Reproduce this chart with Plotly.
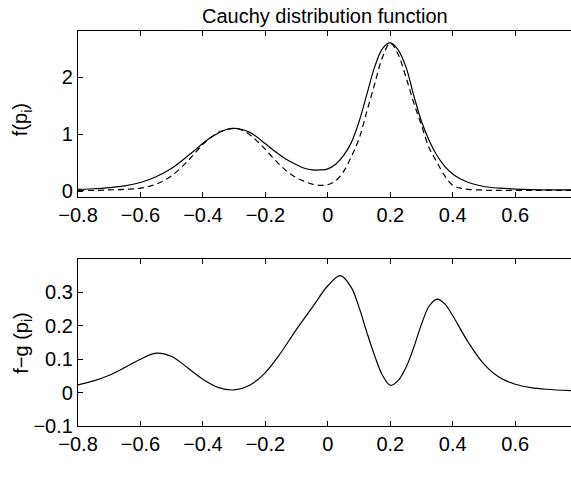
import plotly.graph_objects as go

# ---- data ----
p_top = [-0.80, -0.75, -0.70, -0.65, -0.60, -0.55, -0.50, -0.45, -0.425, -0.40,
         -0.375, -0.35, -0.325, -0.30, -0.275, -0.25, -0.225, -0.20, -0.175, -0.15,
         -0.125, -0.10, -0.075, -0.05, -0.025, 0.00, 0.025, 0.05, 0.075, 0.10,
         0.125, 0.15, 0.175, 0.20, 0.225, 0.25, 0.275, 0.30, 0.325, 0.35,
         0.375, 0.40, 0.425, 0.45, 0.50, 0.55, 0.60, 0.65, 0.70, 0.7786]
f_cauchy = [0.03, 0.04, 0.06, 0.09, 0.15, 0.25, 0.40, 0.61, 0.72, 0.84,
            0.94, 1.02, 1.08, 1.10, 1.08, 1.03, 0.94, 0.83, 0.72, 0.62,
            0.53, 0.46, 0.40, 0.37, 0.37, 0.39, 0.47, 0.62, 0.85, 1.22,
            1.70, 2.18, 2.50, 2.60, 2.48, 2.18, 1.68, 1.22, 0.88, 0.62,
            0.43, 0.30, 0.21, 0.15, 0.08, 0.05, 0.035, 0.025, 0.02, 0.02]
g_dashed = [0.01, 0.01, 0.02, 0.03, 0.05, 0.12, 0.27, 0.52, 0.67, 0.82,
            0.94, 1.03, 1.08, 1.10, 1.07, 0.99, 0.87, 0.73, 0.58, 0.44,
            0.32, 0.23, 0.17, 0.12, 0.10, 0.11, 0.18, 0.34, 0.60, 0.92,
            1.40, 1.88, 2.35, 2.60, 2.40, 2.00, 1.55, 1.15, 0.75, 0.50,
            0.26, 0.10, 0.05, 0.03, 0.015, 0.01, 0.01, 0.01, 0.01, 0.01]

p_bot = [-0.80, -0.75, -0.70, -0.65, -0.60, -0.55, -0.50, -0.45, -0.40, -0.35,
         -0.30, -0.25, -0.20, -0.15, -0.10, -0.05, 0.00, 0.04, 0.075, 0.10,
         0.125, 0.15, 0.175, 0.20, 0.225, 0.25, 0.275, 0.30, 0.325, 0.35, 0.375,
         0.40, 0.45, 0.50, 0.55, 0.60, 0.65, 0.70, 0.7786]
diff_fg = [0.023, 0.035, 0.052, 0.075, 0.100, 0.118, 0.108, 0.075, 0.040, 0.015,
           0.008, 0.022, 0.060, 0.120, 0.190, 0.255, 0.320, 0.350, 0.315, 0.255,
           0.180, 0.110, 0.052, 0.022, 0.036, 0.075, 0.135, 0.205, 0.260, 0.280, 0.265,
           0.230, 0.150, 0.085, 0.045, 0.025, 0.015, 0.010, 0.006]

x_ticks = [-0.8, -0.6, -0.4, -0.2, 0, 0.2, 0.4, 0.6]
x_ticktext = ["−0.8", "−0.6", "−0.4", "−0.2", "0", "0.2", "0.4", "0.6"]
y_top_ticks = [0, 1, 2]
y_bot_ticks = [-0.1, 0, 0.1, 0.2, 0.3]
y_bot_ticktext = ["−0.1", "0", "0.1", "0.2", "0.3"]

title_text = "Cauchy distribution function"

FONT = "Liberation Sans, Arial, Helvetica, sans-serif"
FS = 20

fig = go.Figure()
fig.add_trace(go.Scatter(x=p_top, y=f_cauchy, mode="lines", line=dict(color="black", width=1.2, shape="spline"),
                         xaxis="x", yaxis="y", showlegend=False))
fig.add_trace(go.Scatter(x=p_top, y=g_dashed, mode="lines", line=dict(color="black", width=1.2, dash="6px,4px", shape="spline"),
                         xaxis="x", yaxis="y", showlegend=False))
fig.add_trace(go.Scatter(x=p_bot, y=diff_fg, mode="lines", line=dict(color="black", width=1.2, shape="spline"),
                         xaxis="x2", yaxis="y2", showlegend=False))

axis_common = dict(showgrid=False, zeroline=False, showline=True, linecolor="black", linewidth=1.2,
                   ticks="inside", ticklen=5, tickcolor="black", tickwidth=1,
                   tickfont=dict(family=FONT, size=FS, color="black"))

fig.update_layout(
    width=571, height=479,
    margin=dict(l=78, r=0, t=31, b=53),
    paper_bgcolor="white", plot_bgcolor="white",
    xaxis=dict(domain=[0, 1], range=[-0.8, 0.7786], anchor="y", mirror="ticks",
               tickvals=x_ticks, ticktext=x_ticktext, **axis_common),
    yaxis=dict(domain=[0.579, 1.0], range=[-0.11, 2.81], anchor="x",
               tickvals=y_top_ticks, **axis_common),
    xaxis2=dict(domain=[0, 1], range=[-0.8, 0.7786], anchor="y2", mirror="ticks",
                tickvals=x_ticks, ticktext=x_ticktext, **axis_common),
    yaxis2=dict(domain=[0.0, 0.4228], range=[-0.1, 0.4], anchor="x2",
                tickvals=y_bot_ticks, ticktext=y_bot_ticktext, **axis_common),
    annotations=[
        dict(text=title_text, x=0.5, xref="paper", y=1.0, yref="paper", yanchor="bottom", yshift=2,
             xanchor="center", showarrow=False,
             font=dict(family=FONT, size=FS, color="black")),
        dict(text="p<sub>i</sub>", x=-0.05, xref="x", y=-0.93, yref="y", showarrow=False,
             xanchor="center", yanchor="middle",
             font=dict(family=FONT, size=FS, color="black")),
        dict(text="p<sub>i</sub>", x=-0.05, xref="x2", y=-0.205, yref="y2", showarrow=False,
             xanchor="center", yanchor="middle",
             font=dict(family=FONT, size=FS, color="black")),
        dict(text="f(p<sub>i</sub>)", x=-0.113, xref="paper", y=1.25, yref="y", showarrow=False,
             xanchor="center", yanchor="middle",
             textangle=-90, font=dict(family=FONT, size=FS, color="black")),
        dict(text="f−g (p<sub>i</sub>)", x=-0.113, xref="paper", y=0.15, yref="y2", showarrow=False,
             xanchor="center", yanchor="middle",
             textangle=-90, font=dict(family=FONT, size=FS, color="black")),
    ],
)

fig.write_html("out.html",
               config={"displayModeBar": False},
               post_script="document.body.style.margin='0';document.body.style.overflow='hidden';")
